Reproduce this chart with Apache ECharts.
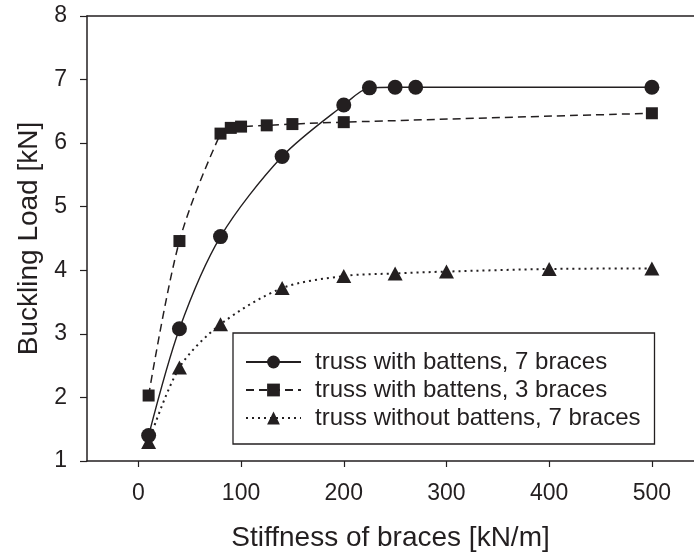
<!DOCTYPE html>
<html>
<head>
<meta charset="utf-8">
<script src="https://cdn.jsdelivr.net/npm/echarts@6/dist/echarts.min.js"></script>
<style>
html,body{margin:0;padding:0;background:#fff;}
#c{width:694px;height:558px;}
</style>
</head>
<body>
<div id="c"></div>
<script>
const xTicks = [0, 100, 200, 300, 400, 500];
const names = ['truss with battens, 7 braces', 'truss with battens, 3 braces', 'truss without battens, 7 braces'];
const xCircle = [10, 40, 80, 140, 200, 225, 250, 270, 500];
const yCircle = [1.40, 3.08, 4.53, 5.79, 6.60, 6.87, 6.88, 6.88, 6.88];
const xSquare = [10, 40, 80, 90, 100, 125, 150, 200, 500];
const ySquare = [2.03, 4.46, 6.15, 6.24, 6.26, 6.28, 6.30, 6.33, 6.47];
const xTri = [10, 40, 80, 140, 200, 250, 300, 400, 500];
const yTri = [1.30, 2.47, 3.15, 3.72, 3.91, 3.95, 3.98, 4.02, 4.03];

const pairs = (xs, ys) => xs.map((x, i) => [x, ys[i]]);
const FONT = '"Liberation Sans", Arial, sans-serif';
const INK = '#231f20';

const chart = echarts.init(document.getElementById('c'), null, {renderer: 'canvas'});
chart.setOption({
  animation: false,
  backgroundColor: '#fff',
  grid: {left: 87, right: 0, top: 16, bottom: 97, containLabel: false},
  legend: {
    orient: 'vertical',
    left: 233, top: 333,
    padding: [15, 14, 12, 12],
    borderColor: INK, borderWidth: 1.3,
    itemWidth: 55, itemHeight: 16, itemGap: 0,
    textStyle: {fontFamily: FONT, fontSize: 24, lineHeight: 28, color: INK, padding: [0, 0, 0, 9]},
    data: names
  },
  xAxis: [{
    type: 'value', min: -50, max: 541, position: 'bottom',
    name: 'Stiffness of braces [kN/m]', nameLocation: 'middle', nameGap: 63,
    nameTextStyle: {fontFamily: FONT, fontSize: 28, color: INK},
    axisLine: {show: true, onZero: false, lineStyle: {color: INK, width: 1.5}},
    axisTick: {show: true, inside: false, length: 6, lineStyle: {color: INK, width: 1.2}, customValues: xTicks},
    axisLabel: {fontFamily: FONT, fontSize: 23, color: INK, margin: 21, customValues: xTicks},
    splitLine: {show: false}
  }, {
    type: 'value', min: -50, max: 541, position: 'top',
    axisLine: {show: true, onZero: false, lineStyle: {color: INK, width: 1.5}},
    axisTick: {show: false}, axisLabel: {show: false}, splitLine: {show: false}
  }],
  yAxis: {
    type: 'value', min: 1, max: 8, interval: 1,
    name: 'Buckling Load [kN]', nameLocation: 'middle', nameGap: 44,
    nameTextStyle: {fontFamily: FONT, fontSize: 28, color: INK},
    axisLine: {show: true, onZero: false, lineStyle: {color: INK, width: 1.5}},
    axisTick: {show: true, inside: false, length: 7, lineStyle: {color: INK, width: 1.2}},
    axisLabel: {fontFamily: FONT, fontSize: 23, color: INK, margin: 20},
    splitLine: {show: false}
  },
  series: [{
    name: names[2], type: 'line', data: pairs(xTri, yTri),
    smooth: 0.3,
    symbol: 'triangle', symbolSize: [15, 14],
    itemStyle: {color: INK},
    lineStyle: {color: INK, width: 2, type: [2, 4]}
  }, {
    name: names[1], type: 'line', data: pairs(xSquare, ySquare),
    smooth: 0.3,
    symbol: 'rect', symbolSize: 12,
    itemStyle: {color: INK},
    lineStyle: {color: INK, width: 1.5, type: [8, 5]}
  }, {
    name: names[0], type: 'line', data: pairs(xCircle, yCircle),
    smooth: 0.3,
    symbol: 'circle', symbolSize: 15,
    itemStyle: {color: INK},
    lineStyle: {color: INK, width: 1.4}
  }]
});
</script>
</body>
</html>
